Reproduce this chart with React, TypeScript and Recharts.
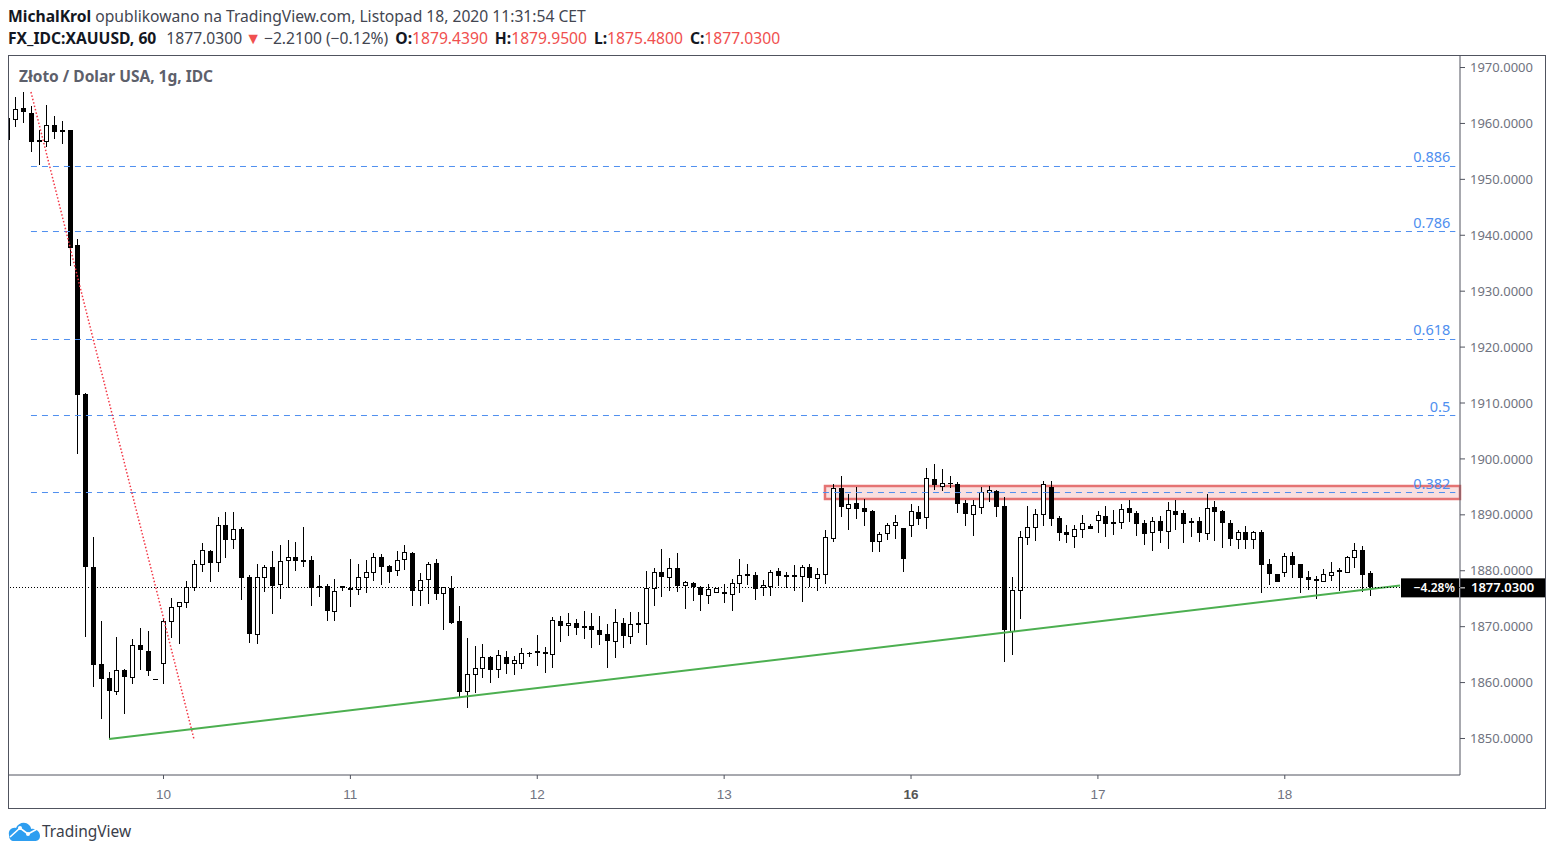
import React from "react";
import { ComposedChart, Bar, XAxis, YAxis, ReferenceLine, ReferenceArea } from "recharts";

// One hourly candle per slot; slot 20 is the first hour of the 10th.
const highs = [
  1960.9,1964.6,1965.5,1963.0,1958.7,1963.2,1961.2,1960.3,1958.7,1939.2,
  1911.7,1886.0,1870.9,1861.8,1868.1,1862.3,1867.7,1869.7,1869.1,1860.5,
  1871.5,1875.0,1874.3,1878.1,1881.8,1884.9,1883.6,1889.5,1890.4,1890.4,
  1887.7,1879.1,1881.1,1880.9,1883.4,1884.5,1885.4,1885.1,1887.7,1882.5,
  1879.1,1877.5,1878.4,1877.2,1882.0,1881.1,1881.8,1883.1,1882.9,1880.9,
  1883.4,1884.5,1883.3,1879.5,1881.5,1882.0,1877.0,1879.0,1873.6,1867.9,
  1866.5,1866.8,1864.7,1865.7,1865.6,1864.7,1866.1,1865.4,1868.4,1866.3,
  1871.6,1871.8,1872.4,1871.3,1872.7,1872.4,1871.8,1870.4,1873.1,1871.5,
  1872.5,1872.5,1879.9,1880.4,1883.8,1882.2,1883.1,1878.1,1877.9,1877.2,
  1877.5,1876.8,1877.5,1878.4,1882.0,1881.1,1879.7,1878.2,1880.0,1880.4,
  1879.7,1880.9,1880.9,1881.1,1880.4,1887.2,1895.4,1896.8,1893.6,1894.9,
  1892.7,1890.8,1886.8,1888.4,1889.9,1887.6,1891.8,1891.5,1898.3,1899.0,
  1898.1,1896.8,1895.8,1892.6,1892.6,1894.9,1895.1,1894.3,1893.1,1878.8,
  1887.0,1891.5,1891.0,1896.0,1896.0,1889.7,1888.1,1888.1,1889.9,1888.3,
  1890.6,1891.5,1890.8,1891.8,1892.6,1890.6,1889.0,1889.5,1889.7,1892.2,
  1892.6,1890.8,1889.3,1889.5,1893.6,1892.4,1890.8,1889.0,1887.2,1887.9,
  1887.0,1887.2,1882.0,1879.3,1883.1,1883.3,1881.1,1879.9,1879.0,1880.2,
  1881.5,1880.4,1882.5,1884.9,1884.3,1879.95,
];
const lows = [
  1956.9,1959.3,1960.0,1954.8,1952.5,1955.7,1957.1,1956.2,1934.4,1900.8,
  1868.1,1859.1,1853.4,1849.8,1857.7,1854.3,1859.7,1862.2,1861.1,1860.4,
  1859.7,1867.9,1866.8,1873.2,1876.3,1879.7,1877.9,1879.7,1882.2,1883.8,
  1874.7,1867.0,1866.8,1876.1,1872.2,1874.9,1876.8,1879.9,1880.6,1873.6,
  1875.2,1870.9,1870.9,1876.3,1873.4,1875.6,1875.9,1878.1,1877.4,1877.7,
  1879.0,1880.0,1873.6,1873.6,1874.0,1874.7,1869.3,1870.4,1857.3,1855.4,
  1858.0,1860.7,1859.8,1860.7,1861.4,1861.3,1862.3,1864.5,1862.9,1861.6,
  1862.5,1867.2,1868.2,1868.4,1867.7,1866.1,1866.6,1862.5,1864.3,1866.1,
  1866.8,1868.8,1866.6,1873.6,1875.2,1876.3,1876.1,1873.1,1874.5,1872.7,
  1874.0,1876.1,1874.1,1872.7,1875.9,1877.4,1874.7,1875.4,1875.4,1877.2,
  1876.8,1876.3,1874.3,1877.0,1876.3,1877.5,1885.1,1889.5,1887.2,1889.2,
  1887.9,1883.3,1883.3,1885.4,1885.6,1879.7,1885.9,1888.1,1887.4,1894.3,
  1894.2,1894.7,1890.2,1887.9,1886.1,1890.0,1892.2,1889.5,1863.6,1864.8,
  1871.3,1884.5,1885.2,1887.9,1887.9,1885.2,1884.9,1884.0,1885.8,1887.4,
  1886.6,1885.9,1886.3,1887.4,1888.6,1886.1,1884.5,1883.4,1884.9,1883.8,
  1887.2,1884.9,1885.9,1885.1,1885.4,1885.2,1884.0,1884.3,1883.8,1883.8,
  1883.8,1875.9,1877.4,1877.9,1878.8,1878.6,1875.9,1876.5,1874.9,1877.9,
  1878.1,1876.3,1879.5,1880.4,1876.1,1875.48,
];
const opens = [
  1960.9,1960.7,1962.7,1961.8,1956.9,1956.8,1959.6,1958.7,1958.7,1938.2,
  1911.5,1880.6,1863.2,1860.7,1858.4,1862.2,1860.9,1866.6,1865.6,1860.5,
  1863.4,1870.9,1873.6,1874.3,1877.0,1881.1,1883.4,1881.5,1888.1,1885.6,
  1887.4,1878.8,1868.6,1878.8,1880.6,1877.5,1881.8,1882.4,1881.8,1881.8,
  1877.2,1877.2,1872.7,1877.2,1876.8,1876.6,1878.8,1879.7,1882.4,1880.8,
  1880.0,1882.0,1883.1,1876.5,1878.4,1881.3,1875.9,1876.8,1870.9,1858.4,
  1861.4,1862.5,1864.5,1862.3,1864.5,1863.4,1863.4,1865.2,1865.6,1865.4,
  1865.0,1870.9,1870.2,1870.6,1870.0,1870.0,1869.3,1868.6,1867.3,1870.6,
  1868.2,1870.6,1870.6,1876.8,1879.7,1878.8,1880.4,1877.4,1877.7,1877.0,
  1875.6,1876.1,1876.1,1875.7,1877.7,1879.3,1879.1,1877.0,1877.2,1879.9,
  1879.1,1879.1,1879.0,1880.6,1878.6,1879.3,1885.8,1894.7,1891.1,1892.0,
  1891.1,1890.6,1885.2,1886.6,1888.1,1887.6,1888.1,1890.4,1889.5,1896.3,
  1895.1,1895.6,1895.4,1892.0,1890.0,1891.3,1894.0,1894.2,1891.5,1869.1,
  1876.5,1886.0,1887.7,1890.0,1894.9,1889.3,1886.8,1886.1,1887.4,1887.9,
  1889.0,1889.7,1888.6,1888.6,1891.1,1890.2,1888.4,1886.8,1888.8,1887.0,
  1890.6,1890.2,1888.8,1888.8,1886.6,1891.3,1890.6,1888.4,1885.6,1886.8,
  1885.6,1886.8,1881.1,1879.3,1879.7,1882.5,1881.1,1878.8,1878.4,1878.1,
  1879.1,1880.0,1879.7,1882.4,1883.6,1879.44,
];
const closes = [
  1956.9,1962.5,1961.9,1956.6,1956.6,1959.6,1958.4,1958.4,1937.6,1911.3,
  1880.6,1863.0,1860.5,1858.4,1862.2,1860.9,1866.6,1865.7,1862.0,1860.4,
  1870.9,1873.4,1874.3,1877.0,1881.1,1883.6,1881.3,1888.1,1885.4,1887.4,
  1878.6,1868.6,1878.8,1880.6,1877.2,1881.6,1882.4,1881.6,1881.5,1876.8,
  1876.8,1872.7,1876.3,1876.8,1876.5,1878.8,1879.7,1882.4,1880.6,1879.7,
  1881.8,1883.3,1876.3,1878.2,1881.1,1875.7,1877.0,1870.6,1858.2,1861.4,
  1862.5,1864.5,1862.2,1864.8,1863.2,1863.9,1865.2,1865.2,1865.2,1865.0,
  1871.1,1870.0,1870.6,1869.7,1869.7,1869.3,1868.4,1867.3,1870.7,1868.2,
  1870.4,1870.2,1876.8,1879.7,1878.8,1880.4,1877.2,1877.9,1877.0,1875.6,
  1876.6,1876.8,1875.7,1877.7,1879.1,1879.0,1876.6,1877.4,1879.7,1879.0,
  1878.8,1878.8,1880.6,1878.6,1879.3,1886.0,1894.7,1891.3,1891.8,1890.9,
  1890.4,1885.1,1886.5,1888.1,1888.6,1882.0,1890.6,1889.2,1896.5,1895.2,
  1895.6,1895.6,1891.8,1890.0,1891.7,1894.0,1894.3,1891.3,1869.3,1876.5,
  1886.0,1887.7,1890.0,1895.4,1889.2,1886.6,1886.3,1887.4,1888.4,1887.4,
  1889.9,1888.3,1888.3,1891.0,1890.2,1888.3,1886.5,1888.8,1887.0,1890.8,
  1889.9,1888.3,1888.4,1886.6,1891.1,1890.4,1888.4,1885.6,1886.8,1885.4,
  1886.8,1880.9,1879.3,1877.9,1882.5,1880.9,1878.6,1878.2,1878.1,1879.3,
  1879.7,1879.7,1882.4,1883.6,1879.1,1877.03,
];

const dateSlots = [20, 44, 68, 92, 116, 140, 164];
const dateLabels = ["10", "11", "12", "13", "16", "17", "18"];
const boldDate = "16";
const priceTicks = [1850,1860,1870,1880,1890,1900,1910,1920,1930,1940,1950,1960,1970];
const fibLevels = [
  { name: "0.886", price: 1952.3 },
  { name: "0.786", price: 1940.67 },
  { name: "0.618", price: 1921.36 },
  { name: "0.5", price: 1907.76 },
  { name: "0.382", price: 1893.99 },
];
const lastPrice = 1877.03;
const lastPercent = "\u22124.28%";
const zone = { from: 104.95, to: 186.5, low: 1892.83, high: 1895.16 };
const trendLine = [{ x: 13.0, y: 1849.9 }, { x: 178.8, y: 1877.36 }];
const fibAnchor = [{ x: 2.98, y: 1965.62 }, { x: 23.9, y: 1849.96 }];

const rows = highs.map((h, i) => ({ slot: i, open: opens[i], high: h, low: lows[i], close: closes[i] }));

const SANS = "'Noto Sans', 'Open Sans', sans-serif";
const RED = "#f0504f";
const FIB = "#4f8fef";
const AXIS = "#50535e";
const TEXT = "#6f7380";

function Candle(props: any) {
  const { x, y, width, height, payload } = props;
  const span = payload.high - payload.low;
  const at = (p: number) => Math.floor(span > 0 ? y + ((payload.high - p) / span) * height : y);
  const px = Math.floor(x + width / 2);
  const up = payload.close >= payload.open;
  const top = at(Math.max(payload.open, payload.close));
  const bottom = at(Math.min(payload.open, payload.close));
  const hi = at(payload.high);
  const lo = at(payload.low);
  return (
    <g shapeRendering="crispEdges">
      <rect x={px} y={hi} width={1} height={Math.max(lo - hi, 1)} fill="#000" />
      {up && bottom - top >= 2 ? (
        <rect x={px - 1.5} y={top + 0.5} width={4} height={bottom - top} fill="#fff" stroke="#000" strokeWidth={1} />
      ) : (
        <rect x={px - 2} y={top} width={5} height={Math.max(bottom - top, 1)} fill="#000" />
      )}
    </g>
  );
}

function DateTick(props: any) {
  const { x, y, payload } = props;
  const label = dateLabels[dateSlots.indexOf(payload.value)];
  return (
    <text x={x} y={y + 18} textAnchor="middle" fontFamily="'Liberation Sans', Arial, sans-serif" fontSize={13.5}
      fontWeight={label === boldDate ? 700 : 400} fill={label === boldDate ? "#555" : TEXT}>
      {label}
    </text>
  );
}

const fibLabel = (name: string) => (p: any) => {
  const vb = p.viewBox;
  return (
    <text x={vb.x + vb.width - 5} y={vb.y - 4} textAnchor="end" fontFamily={SANS} fontSize={14.5} fill={FIB}>{name}</text>
  );
};

const priceTag = (p: any) => {
  const vb = p.viewBox;
  const right = vb.x + vb.width;
  return (
    <g>
      <rect x={right - 59} y={vb.y - 9} width={58} height={19} fill="#000" />
      <rect x={right} y={vb.y - 9} width={85} height={19} fill="#000" />
      <rect x={right} y={vb.y} width={5} height={1} fill="#fff" />
      <text x={right - 5} y={vb.y + 4.5} textAnchor="end" fontFamily={SANS} fontSize={12} fontWeight={600} fill="#fff">{lastPercent}</text>
      <text x={right + 11} y={vb.y + 4.5} fontFamily={SANS} fontSize={13} fontWeight={600} fill="#fff">{lastPrice.toFixed(4)}</text>
    </g>
  );
};

const abs = (left: number, top: number): React.CSSProperties => ({
  position: "absolute", left, top, whiteSpace: "nowrap", lineHeight: "20px",
});

function Ohlc({ k, v }: { k: string; v: string }) {
  return (
    <span style={{ marginLeft: 7 }}>
      <b style={{ color: "#131722" }}>{k}</b>
      <span style={{ color: RED }}>{v}</span>
    </span>
  );
}

export default function App() {
  return (
    <div style={{ position: "absolute", left: 0, top: 0, width: 1554, height: 855, overflow: "hidden", background: "#fff", fontFamily: SANS }}>
      <div style={{ ...abs(8, 6), fontSize: 15.65, color: "#131722" }}>
        <b>MichalKrol</b> <span style={{ color: "#434651" }}>opublikowano na TradingView.com, Listopad 18, 2020 11:31:54 CET</span>
      </div>
      <div style={{ ...abs(8, 28), fontSize: 15.65, color: "#131722" }}>
        <b>FX_IDC:XAUUSD, 60</b> <span style={{ color: "#434651", marginLeft: 6 }}>1877.0300</span>
        <span style={{ color: RED, margin: "0 3px", fontSize: 16 }}>▼</span>
        <span style={{ color: "#434651" }}>{"\u22122.2100 (\u22120.12%)"}</span>
        <Ohlc k="O:" v="1879.4390" />
        <Ohlc k="H:" v="1879.9500" />
        <Ohlc k="L:" v="1875.4800" />
        <Ohlc k="C:" v="1877.0300" />
      </div>
      <div style={{ position: "absolute", left: 8, top: 55, width: 1536, height: 752, border: `1px solid ${AXIS}`, boxSizing: "content-box" }} />
      <div style={{ ...abs(19, 66), fontSize: 15.5, fontWeight: 700, color: "#5d606b" }}>Złoto / Dolar USA, 1g, IDC</div>

      <div style={{ position: "absolute", left: 0, top: 0 }}>
        <ComposedChart width={1554} height={855} data={rows} margin={{ top: 55, left: 9, right: 9, bottom: 47 }}>
          <XAxis dataKey="slot" type="number" scale="linear" domain={[0.16, 186.5]} allowDataOverflow ticks={dateSlots} interval={0}
            height={33} tickSize={4} tick={<DateTick />} stroke={AXIS} />
          <YAxis type="number" orientation="right" domain={[1843.47, 1972.24]} allowDataOverflow ticks={priceTicks} interval={0}
            width={85} tickSize={5} tickMargin={5} stroke={AXIS} tickFormatter={(v: number) => v.toFixed(4)}
            tick={{ fontFamily: SANS, fontSize: 13, fill: TEXT }} />
          <Bar dataKey={(r: any) => [r.low, r.high]} barSize={6} isAnimationActive={false} shape={<Candle />} />
          {fibLevels.map((f) => (
            <ReferenceLine key={f.name} segment={[{ x: 2.98, y: f.price }, { x: 185.9, y: f.price }]} ifOverflow="visible"
              stroke={FIB} strokeWidth={1} strokeDasharray="6 5" label={fibLabel(f.name)} />
          ))}
          <ReferenceArea x1={zone.from} x2={zone.to} y1={zone.low} y2={zone.high} ifOverflow="visible"
            fill="#e57373" fillOpacity={0.22} stroke="#e57373" strokeWidth={2.5} />
          <ReferenceLine segment={fibAnchor} ifOverflow="visible" stroke="#f23645" strokeWidth={1.5} strokeDasharray="1.5 2" />
          <ReferenceLine segment={trendLine} ifOverflow="visible" stroke="#4caf50" strokeWidth={2} />
          <ReferenceLine y={lastPrice} stroke="#000" strokeWidth={1} strokeDasharray="1 2" shapeRendering="crispEdges" label={priceTag} />
        </ComposedChart>
      </div>

      <svg style={{ position: "absolute", left: 8, top: 821 }} width={33} height={21} viewBox="0 0 33 21">
        <path d="M1 14 C0 9 4 6 8 7 C10 2 17 0 21 4 C23 6 23 7 23 8 C28 7 32 11 32 15 C32 19 29 20 27 20 L6 20 C3 20 1 18 1 14 Z" fill="#2e9ef0" />
        <path d="M2 16 L12 7 L20 13 L29 8" stroke="#fff" strokeWidth={1.6} fill="none" />
        <circle cx={12} cy={7} r={2} fill="#fff" />
        <circle cx={20} cy={13} r={2} fill="#fff" />
      </svg>
      <div style={{ ...abs(42, 821), fontSize: 15.5, color: "#3a3e4a" }}>TradingView</div>
    </div>
  );
}
